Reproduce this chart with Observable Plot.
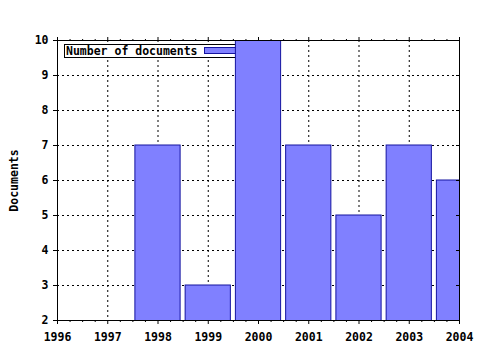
<!DOCTYPE html>
<html>
<head>
<meta charset="utf-8">
<script src="https://cdn.jsdelivr.net/npm/d3@7"></script>
<script src="https://cdn.jsdelivr.net/npm/@observablehq/plot@0.6"></script>
<style>
  html, body { margin: 0; padding: 0; background: #fff; }
  svg { display: block; }
</style>
</head>
<body>
<div id="chart"></div>
<script>
const years = [1996, 1997, 1998, 1999, 2000, 2001, 2002, 2003, 2004];
const documents = [0, 0, 7, 3, 10, 7, 5, 7, 6];
const yTicks = [2, 3, 4, 5, 6, 7, 8, 9, 10];
const seriesName = "Number of documents";
const yLabel = "Documents";

const data = years.map((year, i) => ({year, value: documents[i]}));
const minorTicks = d3.range(0, (years[years.length - 1] - years[0]) * 4 + 1)
  .map(i => years[0] + i / 4).filter(v => !Number.isInteger(v));

const barFill = "#8080ff";
const barStroke = "#1414a0";
const font = "bold 11.5px 'DejaVu Sans Mono', monospace";

function legend(index, scales, values, dimensions) {
  const g = d3.create("svg:g");
  const x0 = dimensions.marginLeft + 7;
  const y0 = dimensions.marginTop + 4;
  g.append("rect").attr("x", x0 + 0.5).attr("y", y0 + 0.5)
    .attr("width", 178).attr("height", 13)
    .attr("fill", "white").attr("stroke", "black");
  g.append("text").attr("x", x0 + 2).attr("y", y0 + 10.5)
    .attr("text-anchor", "start")
    .style("font", font).attr("fill", "black").text(seriesName);
  g.append("rect").attr("x", x0 + 140.5).attr("y", y0 + 3.5)
    .attr("width", 32).attr("height", 6)
    .attr("fill", barFill).attr("stroke", barStroke);
  return g.node();
}

const dash = "2,3";

const chart = Plot.plot({
  width: 480,
  height: 350,
  marginLeft: 57,
  marginRight: 21,
  marginTop: 40,
  marginBottom: 30,
  style: {font: font, color: "black", background: "white"},
  x: {domain: [years[0], years[years.length - 1]], ticks: years},
  y: {domain: [yTicks[0], yTicks[yTicks.length - 1]], ticks: yTicks},
  marks: [
    Plot.ruleX(years, {stroke: "black", strokeDasharray: dash, strokeOpacity: 1}),
    Plot.ruleY(yTicks, {stroke: "black", strokeDasharray: dash, strokeOpacity: 1}),
    legend,
    Plot.rectY(data, {
      x1: d => d.year - 0.45,
      x2: d => d.year + 0.45,
      y1: 0,
      y2: "value",
      fill: barFill,
      stroke: barStroke,
      strokeWidth: 1,
      clip: true
    }),
    Plot.frame({stroke: "black", strokeWidth: 1}),
    Plot.axisX({anchor: "bottom", ticks: years, tickFormat: d => String(d), tickSize: 4, tickPadding: 8, label: null, fontWeight: "bold"}),
    Plot.axisX({anchor: "bottom", ticks: minorTicks, tickSize: 2, text: null, label: null}),
    Plot.axisX({anchor: "top", ticks: years, tickSize: 4, text: null, label: null}),
    Plot.axisX({anchor: "top", ticks: minorTicks, tickSize: 2, text: null, label: null}),
    Plot.axisY({anchor: "left", ticks: yTicks, tickSize: 4, tickPadding: 5, label: yLabel, labelAnchor: "center", labelOffset: 48, labelArrow: "none"}),
    Plot.axisY({anchor: "right", ticks: yTicks, tickSize: -4, text: null, label: null})
  ]
});
document.getElementById("chart").append(chart);
</script>
</body>
</html>
